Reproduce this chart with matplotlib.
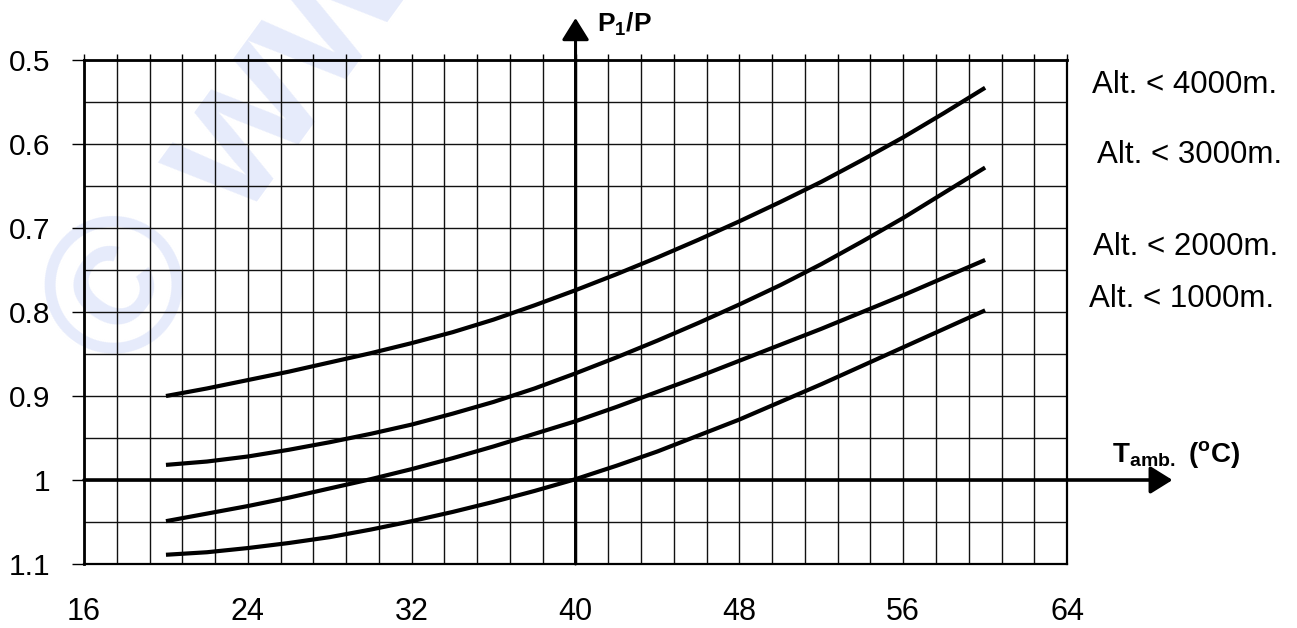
import numpy as np
import matplotlib
matplotlib.use("Agg")
import matplotlib.pyplot as plt

plt.rcParams['font.family'] = ['Liberation Sans', 'DejaVu Sans']
plt.rcParams['mathtext.fontset'] = 'custom'
plt.rcParams['mathtext.rm'] = 'Liberation Sans'
plt.rcParams['mathtext.bf'] = 'Liberation Sans:bold'

# ---- data ----
temps = [20, 22, 24, 26, 28, 30, 32, 34, 36, 38, 40,
         42, 44, 46, 48, 50, 52, 54, 56, 58, 60]
alt_4000 = [0.900, 0.891, 0.881, 0.871, 0.860, 0.849, 0.837, 0.824, 0.809, 0.792, 0.774,
            0.755, 0.735, 0.714, 0.692, 0.669, 0.645, 0.619, 0.592, 0.563, 0.533]
alt_3000 = [0.982, 0.978, 0.972, 0.964, 0.955, 0.945, 0.934, 0.921, 0.907, 0.891, 0.873,
            0.854, 0.834, 0.813, 0.791, 0.768, 0.743, 0.716, 0.688, 0.658, 0.628]
alt_2000 = [1.049, 1.040, 1.031, 1.021, 1.010, 0.999, 0.987, 0.974, 0.960, 0.945, 0.930,
            0.913, 0.895, 0.877, 0.858, 0.839, 0.820, 0.800, 0.780, 0.759, 0.738]
alt_1000 = [1.089, 1.086, 1.081, 1.075, 1.068, 1.059, 1.049, 1.038, 1.026, 1.013, 0.999,
            0.983, 0.966, 0.947, 0.928, 0.907, 0.886, 0.864, 0.842, 0.820, 0.798]
series = [alt_4000, alt_3000, alt_2000, alt_1000]
series_labels = ["Alt. < 4000m.", "Alt. < 3000m.", "Alt. < 2000m.", "Alt. < 1000m."]

x_ticks = [16, 24, 32, 40, 48, 56, 64]
x_tick_labels = ["16", "24", "32", "40", "48", "56", "64"]
y_ticks = [0.5, 0.6, 0.7, 0.8, 0.9, 1.0, 1.1]
y_tick_labels = ["0.5", "0.6", "0.7", "0.8", "0.9", "1", "1.1"]

fig = plt.figure(figsize=(12.97, 6.28), dpi=100)
ax = fig.add_axes([0.0648, 0.1019, 0.7579, 0.8025])
ax.set_xlim(16, 64)
ax.set_ylim(1.1, 0.5)

# ticks & grid
ax.set_xticks(x_ticks)
ax.set_xticklabels(x_tick_labels)
ax.set_xticks(np.arange(16, 64.01, 1.6), minor=True)
ax.set_yticks(y_ticks)
ax.set_yticklabels(y_tick_labels)
ax.set_yticks(np.arange(0.55, 1.1, 0.1), minor=True)

ax.tick_params(axis='x', which='both', bottom=False, top=True, direction='out',
               length=4.5, width=1.0, color='k', labelsize=22, pad=19)
ax.tick_params(axis='y', which='major', left=True, direction='out', length=9,
               width=1.0, color='k', labelsize=21.5, pad=15)
ax.tick_params(axis='y', which='minor', left=False)
ax.set_axisbelow(True)
ax.grid(which='both', color='#111111', linewidth=1.0)

for side in ['left', 'right', 'top', 'bottom']:
    ax.spines[side].set_color('k')
ax.spines['left'].set_linewidth(2.0)
ax.spines['top'].set_linewidth(2.0)
ax.spines['right'].set_linewidth(1.6)
ax.spines['bottom'].set_linewidth(1.6)

# watermark
ax.text(16.05, 0.848, "© www", rotation=54, rotation_mode='anchor', fontsize=140,
        fontweight='bold', color='#e6ebfb', ha='left', va='center', zorder=0.1,
        clip_on=False)

# curves
for vals in series:
    ax.plot(temps, vals, color='k', linewidth=3.0, solid_capstyle='butt',
            solid_joinstyle='round', zorder=3)

# axes arrows
ax.annotate('', xy=(40, 0.45), xytext=(40, 1.1), annotation_clip=False,
            arrowprops=dict(arrowstyle='-|>,head_length=0.45,head_width=0.28',
                            mutation_scale=30, lw=2.2, color='k',
                            shrinkA=0, shrinkB=0), zorder=4)
ax.annotate('', xy=(69.15, 1.0), xytext=(16, 1.0), annotation_clip=False,
            arrowprops=dict(arrowstyle='-|>,head_length=0.45,head_width=0.28',
                            mutation_scale=30, lw=2.6, color='k',
                            shrinkA=0, shrinkB=0), zorder=4)

# axis labels
ax.text(41.05, 0.4667, r'$\mathbf{P_1/P}$', fontsize=19, ha='left', va='baseline',
        clip_on=False)
ax.text(66.2, 0.9786, r'$\mathbf{T_{amb.}}$', fontsize=20, ha='left', va='baseline',
        clip_on=False)
ax.text(69.93, 0.9786, r'$\mathbf{(^{o}C)}$', fontsize=20, ha='left', va='baseline',
        clip_on=False)

# series labels
label_x = [65.22, 65.44, 65.25, 65.06]
label_y = [0.5397, 0.623, 0.732, 0.7937]
for lx, ly, lab in zip(label_x, label_y, series_labels):
    ax.text(lx, ly, lab, fontsize=22.5, ha='left', va='baseline', clip_on=False)

fig.savefig("out.png", dpi=100)
